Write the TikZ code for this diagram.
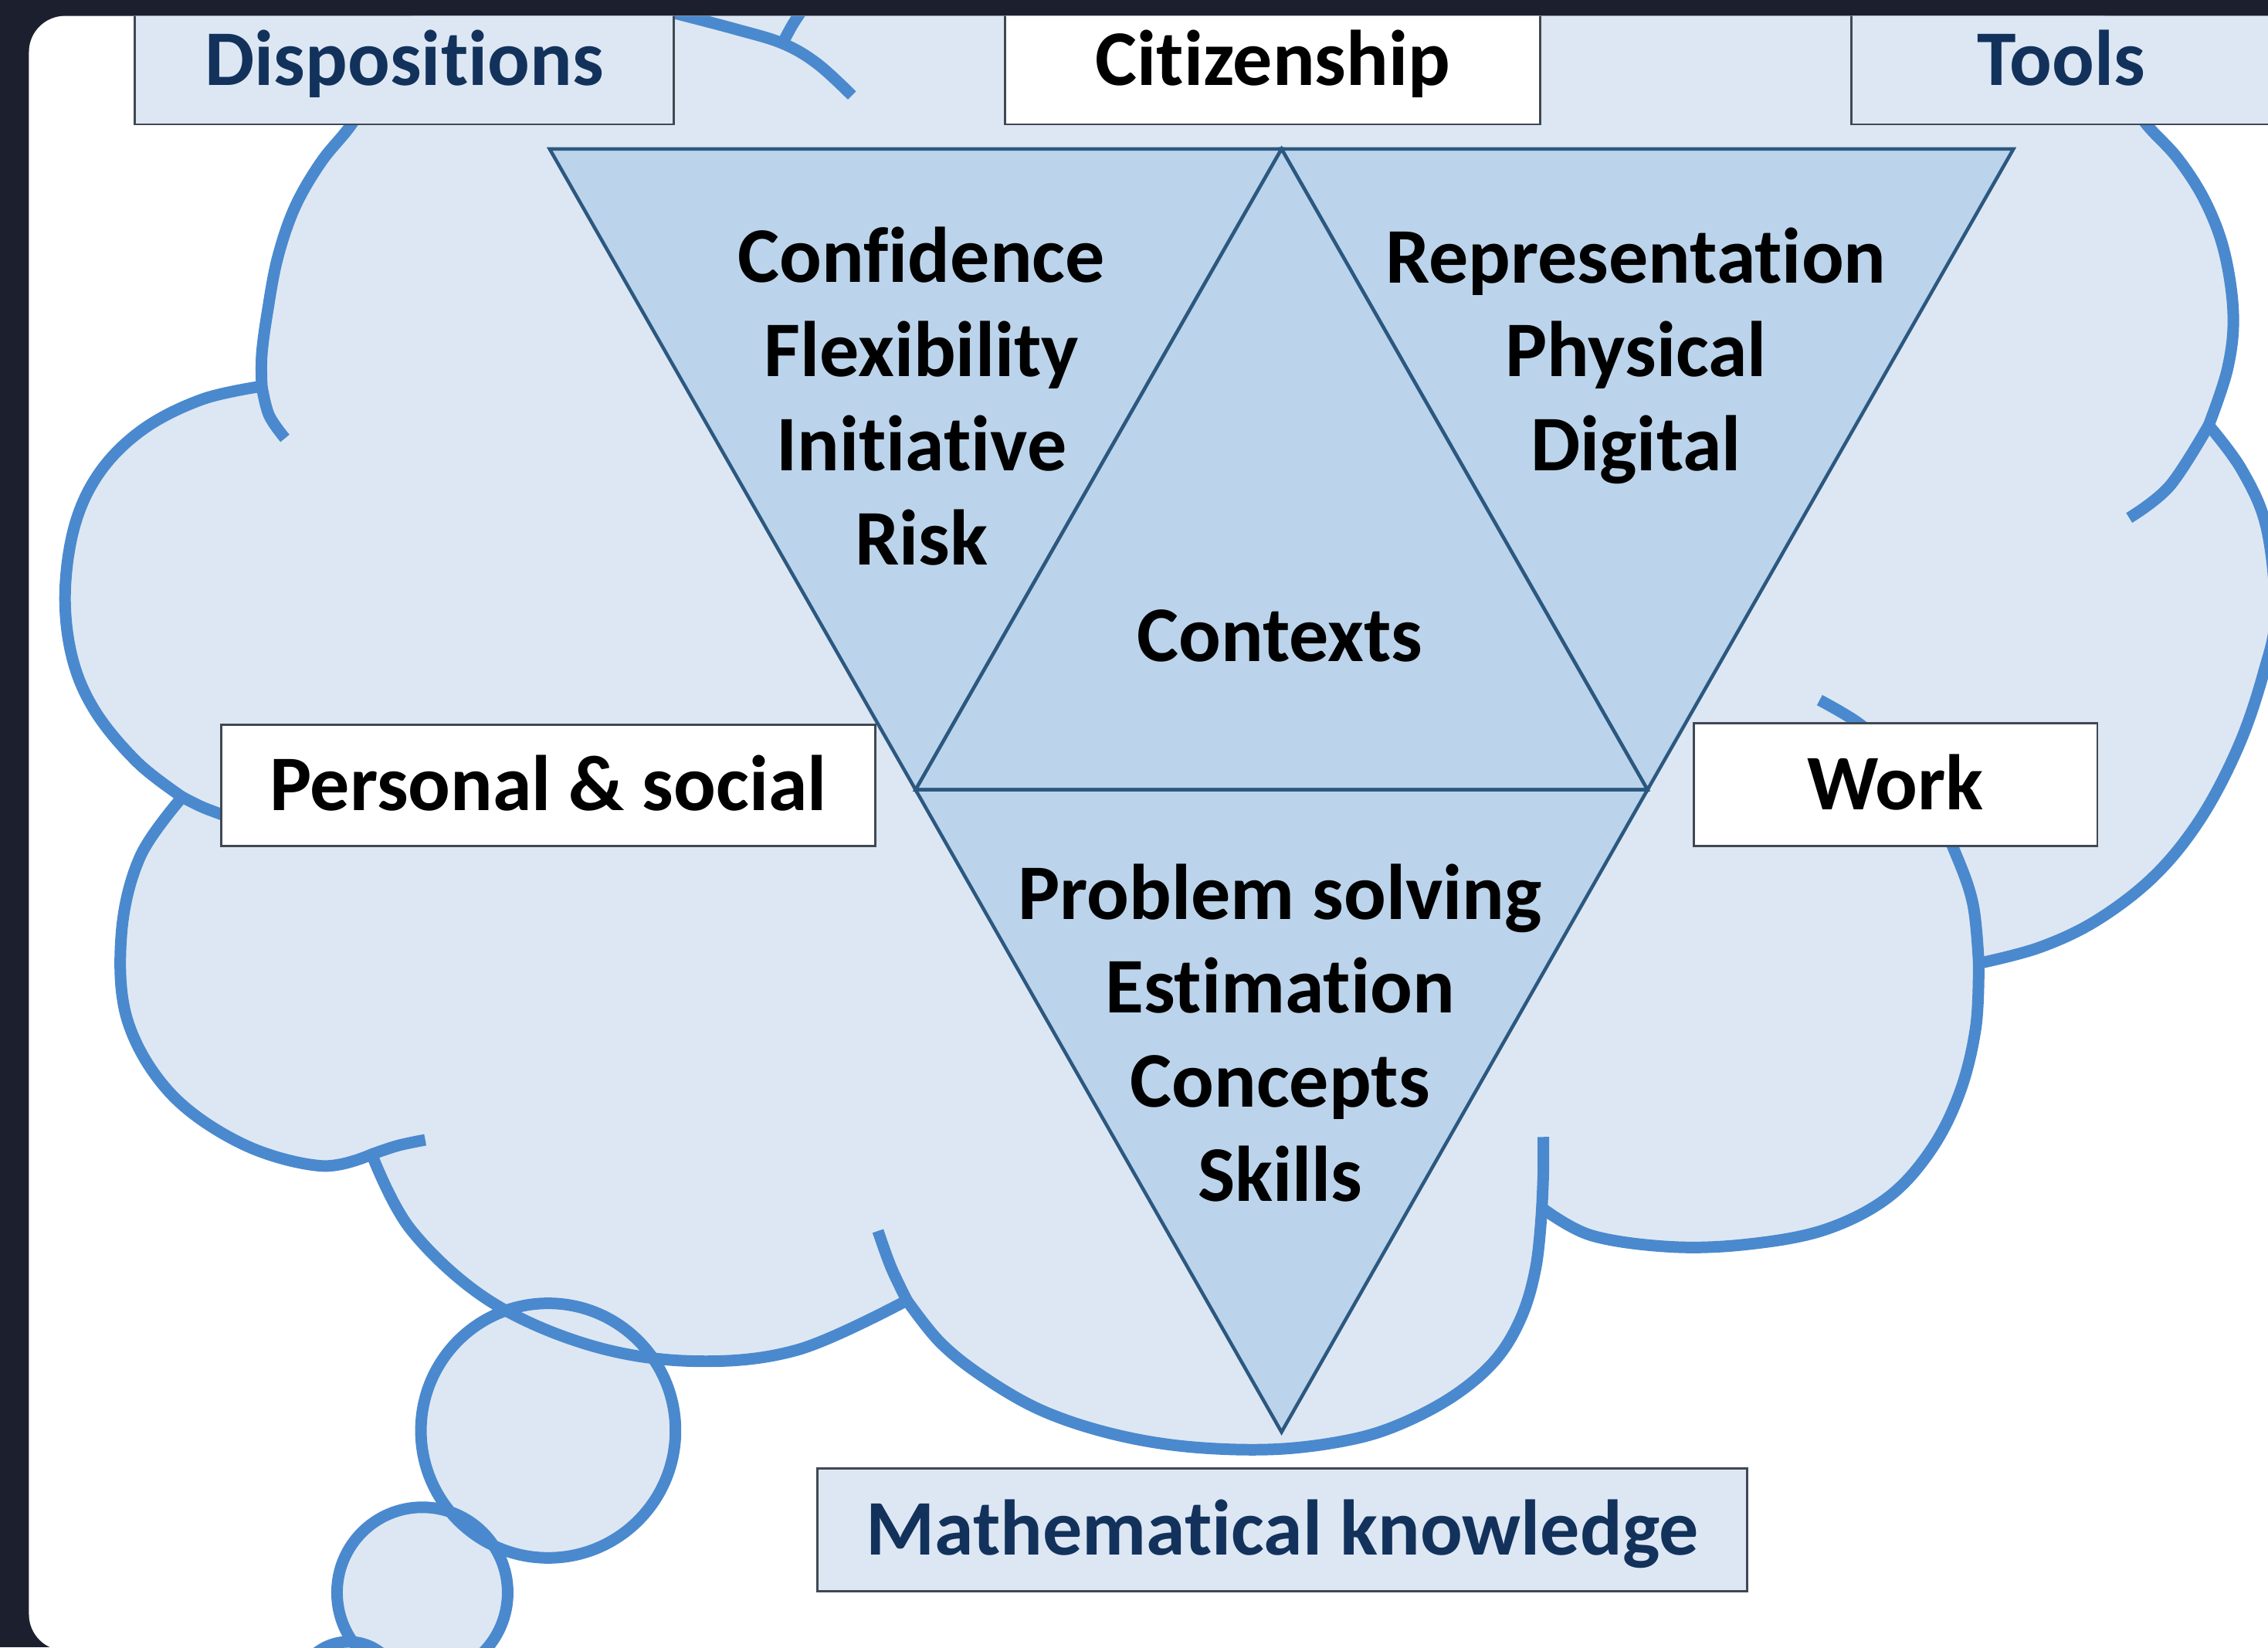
\documentclass[tikz,border=0pt]{standalone}
\usepackage{fontspec}
\setmainfont{Carlito}[Ligatures={NoCommon}]
\usetikzlibrary{positioning}
\definecolor{frame}{RGB}{28,32,46}
\definecolor{cloudfill}{RGB}{221,231,243}
\definecolor{cloudline}{RGB}{74,137,206}
\definecolor{trifill}{RGB}{187,212,235}
\definecolor{triline}{RGB}{44,88,128}
\definecolor{boxline}{RGB}{64,72,82}
\definecolor{navy}{RGB}{18,50,92}
\newcommand\kfont{\bfseries\fontsize{15.5}{18.5}\selectfont}

\begin{document}
\begin{tikzpicture}[x=0.1mm, y=-0.1mm,
	outbox/.style={draw=boxline, line width=0.15mm, inner sep=0pt, font=\kfont,
		text height=9.8pt, text depth=0pt, minimum height=8.5mm},
	blue box/.style={outbox, fill=cloudfill, text=navy},
	white box/.style={outbox, fill=white, text=black},
	part/.style={fill=trifill, draw=triline, line width=0.24mm},
	item/.style={font=\kfont, align=center, inner sep=0pt},
	bump/.style={draw=cloudline, line width=0.8mm}
]
\useasboundingbox (0,0) rectangle (1568,1139);
\fill[frame] (0,0) rectangle (1568,1139);
\fill[white, rounded corners=2.5mm] (20,11) rectangle (1620,1141);

\begin{scope}
\clip[rounded corners=2.5mm] (20,11) rectangle (1620,1141);

% thought bubbles
\fill[cloudfill] (379,989) circle[radius=88] (292,1101) circle[radius=59] (241,1171) circle[radius=36];

% cloud
\filldraw[fill=cloudfill, bump, line join=round] (300,-20)
	-- plot[smooth, tension=.6] coordinates {(262,55) (243,86) (222,112) (204,143) (192,178) (185,215) (181,245) (181,267)}
	-- plot[smooth, tension=.6] coordinates {(181,267) (140,276) (100,296) (70,325) (52,362) (45,410) (50,455) (66,492) (95,527) (126,551)}
	-- plot[smooth, tension=.6] coordinates {(126,551) (97,592) (84,645) (88,705) (118,756) (168,791) (222,806) (257,798)}
	-- plot[smooth, tension=.6] coordinates {(257,798) (284,850) (338,899) (408,930) (480,941) (552,933) (627,899)}
	-- plot[smooth, tension=.6] coordinates {(627,899) (650,928) (680,952) (720,975) (768,991) (820,1000) (879,1002) (930,996) (967,985) (1005,965) (1034,940) (1052,910) (1062,875) (1066,835)}
	-- plot[smooth, tension=.6] coordinates {(1066,835) (1100,854) (1156,862) (1210,860) (1262,850) (1305,828) (1335,795) (1355,755) (1366,710) (1368,666)}
	-- plot[smooth, tension=.6] coordinates {(1368,666) (1410,655) (1450,636) (1490,605) (1522,565) (1548,515) (1565,465) (1573,425) (1567,365) (1550,325) (1527,294)}
	-- plot[smooth, tension=.6] coordinates {(1527,294) (1540,255) (1544,218) (1538,175) (1525,140) (1506,110) (1484,86) (1470,65) (1455,40)}
	-- (1455,-20) -- cycle;

\draw[bump] plot[smooth, tension=.6] coordinates {(181,267) (186,287) (197,303)};
\draw[bump] plot[smooth, tension=.6] coordinates {(126,551) (140,558) (156,564)};
\draw[bump] plot[smooth, tension=.6] coordinates {(257,798) (275,792) (294,788)};
\draw[bump] plot[smooth, tension=.6] coordinates {(627,899) (616,876) (607,851)};
\draw[bump] plot[smooth, tension=.6] coordinates {(1066,835) (1067,810) (1067,786)};
\draw[bump] plot[smooth, tension=.6] coordinates {(1368,666) (1364,625) (1352,590) (1335,555) (1310,522) (1285,500) (1258,484)};
\draw[bump] plot[smooth, tension=.6] coordinates {(1527,294) (1500,336) (1472,358)};
\draw[bump] plot[smooth, tension=.6] coordinates {(466,9) (508,20) (541,30) (565,44) (589,66)};
\draw[bump] plot[smooth, tension=.6] coordinates {(556,5) (548,17) (541,30)};

\draw[bump] (379,989) circle[radius=88] (292,1101) circle[radius=59] (241,1171) circle[radius=36];

% triangles
\coordinate (tl) at (380,103);
\coordinate (tm) at (886,103);
\coordinate (tr) at (1392,103);
\coordinate (ml) at (633,546);
\coordinate (mr) at (1139,546);
\coordinate (bt) at (886,990);
\draw[part] (tl) -- (tm) -- (ml) -- cycle;
\draw[part] (tm) -- (tr) -- (mr) -- cycle;
\draw[part] (tm) -- (mr) -- (ml) -- cycle;
\draw[part] (ml) -- (mr) -- (bt) -- cycle;

\node[item] (traits) at (637,274) {Confidence\\Flexibility\\Initiative\\Risk};
\node[item] (media) at (1131,246) {Representation\\Physical\\Digital};
\node[item, anchor=base] (contexts) at (885,457) {Contexts};
\node[item] (know) at (885,714) {Problem solving\\Estimation\\Concepts\\Skills};

% labels round the cloud
\node[blue box, minimum width=37.3mm, minimum height=8.8mm] (dispositions) at (279.5,42) {Dispositions};
\node[white box, minimum width=37mm, minimum height=8.8mm] (citizenship) at (880,42) {Citizenship};
\node[blue box, minimum width=29mm, minimum height=8.8mm] (tools) at (1425,42) {Tools};
\node[white box, minimum width=45.2mm, minimum height=8.4mm] (personal) at (379,543) {Personal \& social};
\node[white box, minimum width=27.9mm] (work) at (1310.5,542.5) {Work};
\node[blue box, minimum width=64.3mm] (maths) at (886.5,1057.5) {Mathematical knowledge};
\end{scope}
\end{tikzpicture}
\end{document}
